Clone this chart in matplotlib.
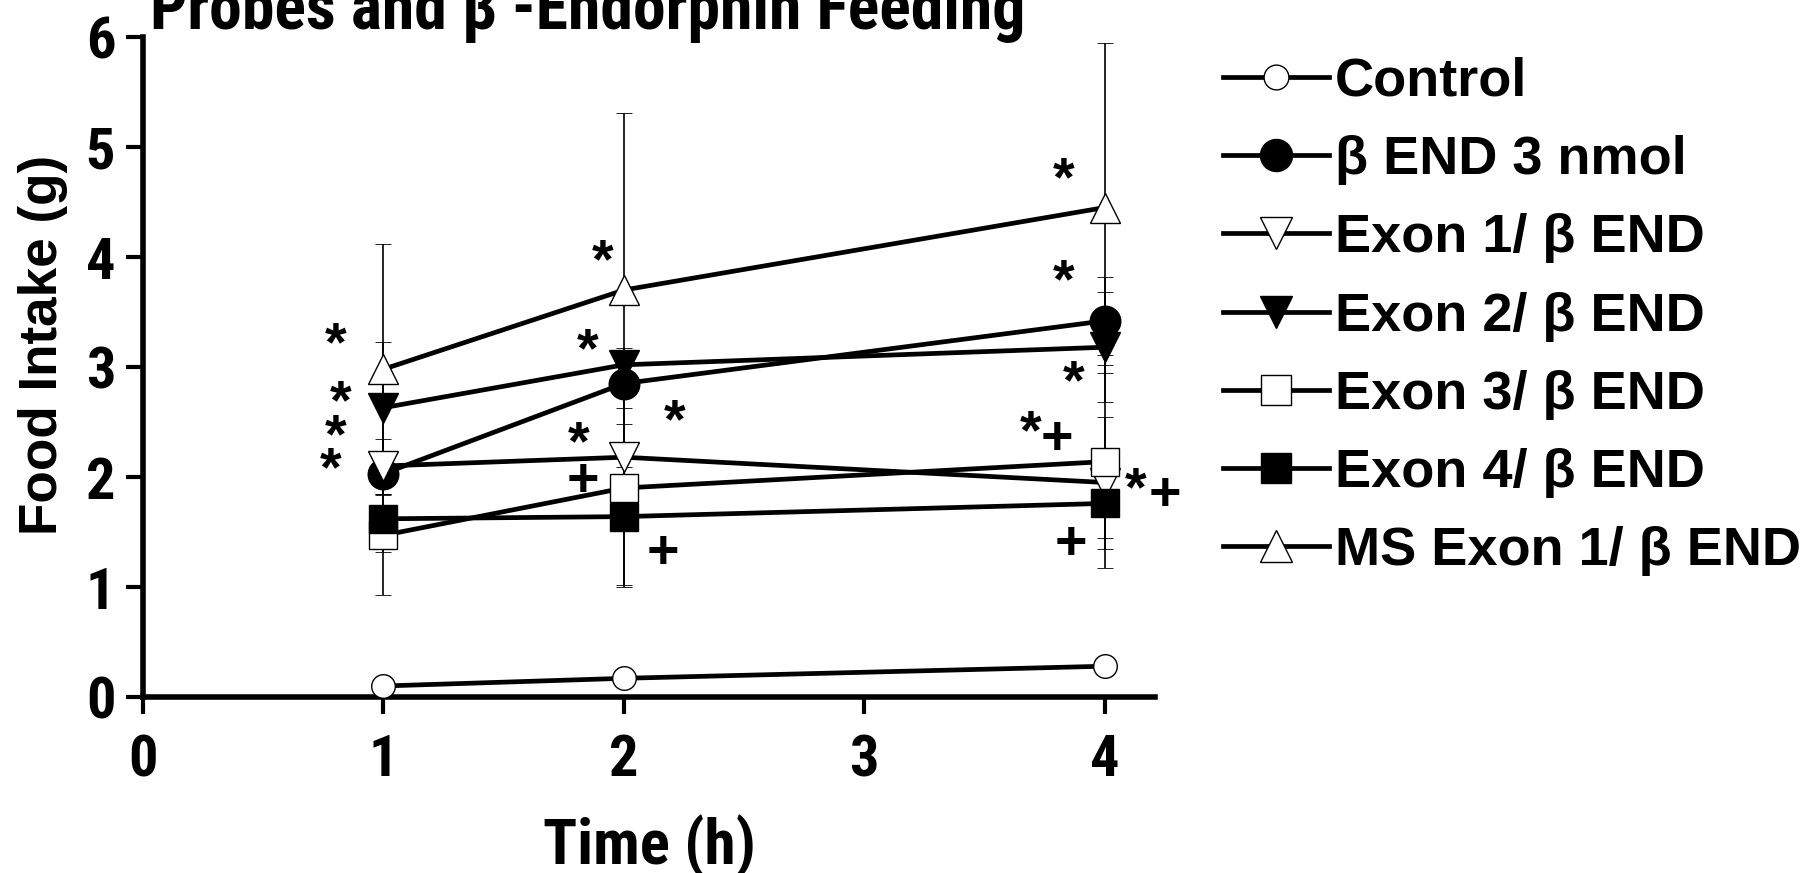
import matplotlib
matplotlib.use('Agg')
import matplotlib.pyplot as plt
from matplotlib import font_manager

# data
time_h = [1, 2, 4]
control = [0.10, 0.17, 0.28]
bend = [2.03, 2.85, 3.42]
exon1 = [2.10, 2.18, 1.95]
exon2 = [2.63, 3.02, 3.18]
exon3 = [1.47, 1.90, 2.14]
exon4 = [1.62, 1.64, 1.76]
ms_exon1 = [2.98, 3.70, 4.45]

control_err = [0.04, 0.05, 0.06]
bend_err = [0.18, 0.22, 0.40]
exon1_err = [0.25, 0.30, 0.60]
exon2_err = [0.60, 0.15, 0.50]
exon3_err = [0.54, 0.88, 0.97]
exon4_err = [0.30, 0.64, 0.31]
ms_exon1_err = [1.14, 1.61, 1.50]

labels = ['Control', 'β END 3 nmol', 'Exon 1/ β END', 'Exon 2/ β END',
          'Exon 3/ β END', 'Exon 4/ β END', 'MS Exon 1/ β END']

# significance marks (x, y, symbol)
sig_marks = [(0.80, 3.29, '*'), (0.82, 2.76, '*'), (0.80, 2.45, '*'), (0.78, 2.15, '*'),
             (1.91, 4.04, '*'), (1.85, 3.23, '*'), (1.81, 2.39, '*'), (1.83, 2.00, '+'),
             (2.21, 2.59, '*'), (2.16, 1.34, '+'),
             (3.83, 4.79, '*'), (3.83, 3.86, '*'), (3.87, 2.94, '*'),
             (3.69, 2.49, '*'), (3.80, 2.38, '+'),
             (4.13, 1.97, '*'), (4.25, 1.87, '+'), (3.86, 1.43, '+')]

names = {f.name for f in font_manager.fontManager.ttflist}
narrow = 'Liberation Sans'
for cand in ['Roboto Condensed', 'Archivo Narrow', 'PT Sans Narrow', 'Liberation Sans Narrow', 'Open Sans Condensed']:
    if cand in names:
        narrow = cand
        break
plt.rcParams['font.family'] = ['Liberation Sans', 'DejaVu Sans']
plt.rcParams['font.weight'] = 'bold'

fig = plt.figure(figsize=(18.04, 8.73), dpi=100)
ax = fig.add_axes([0.0793, 0.2016, 0.5611, 0.756])

series = [
    (control, control_err, dict(marker='o', mfc='white', mec='black', ms=17, mew=1.0)),
    (bend, bend_err, dict(marker='o', mfc='black', mec='black', ms=22, mew=1.0)),
    (exon1, exon1_err, dict(marker='v', mfc='white', mec='black', ms=22, mew=1.0)),
    (exon2, exon2_err, dict(marker='v', mfc='black', mec='black', ms=22, mew=1.0)),
    (exon3, exon3_err, dict(marker='s', mfc='white', mec='black', ms=20, mew=1.0)),
    (exon4, exon4_err, dict(marker='s', mfc='black', mec='black', ms=20, mew=1.0)),
    (ms_exon1, ms_exon1_err, dict(marker='^', mfc='white', mec='black', ms=22, mew=1.0)),
]

handles = []
for (vals, errs, style), lab in zip(series, labels):
    ax.errorbar(time_h, vals, yerr=errs, fmt='none', ecolor='black',
                elinewidth=1.2, capsize=6, capthick=0.6, zorder=2)
    h, = ax.plot(time_h, vals, color='black', lw=3.4, label=lab, zorder=3, **style)
    handles.append(h)

for x, y, s in sig_marks:
    fs = 40
    off = 0.45 * fs if s == '*' else 0.34 * fs
    ax.annotate(s, (x, y), xytext=(0, -off), textcoords='offset points',
                ha='center', va='baseline', fontsize=fs, fontweight='bold',
                family='Liberation Sans', annotation_clip=False)

ax.set_xlim(0, 4.21)
ax.set_ylim(0, 6)
ax.set_xticks([0, 1, 2, 3, 4])
ax.set_yticks([0, 1, 2, 3, 4, 5, 6])
for side in ['top', 'right']:
    ax.spines[side].set_visible(False)
for side in ['left', 'bottom']:
    ax.spines[side].set_linewidth(4)
ax.tick_params(width=3, length=12, direction='out', labelsize=42)
ax.tick_params(axis='x', pad=14)
ax.tick_params(axis='y', pad=8)
for lab in ax.get_xticklabels() + ax.get_yticklabels():
    lab.set_family(narrow)
    lab.set_fontweight('bold')

ax.set_xlabel('Time (h)', fontsize=46, family=narrow, fontweight='bold', va='top')
ax.set_ylabel('Food Intake (g)', fontsize=38, family='Liberation Sans', fontweight='bold')
ax.xaxis.set_label_coords(0.5, -0.178)
ax.yaxis.set_label_coords(-0.074, 0.533)

title = fig.text(150 / 1804, 1 - 29 / 873, 'Probes and β -Endorphin Feeding', fontsize=48,
                 family=narrow, fontweight='bold', ha='left', va='baseline')

fig.legend(handles=handles, loc='upper left', bbox_to_anchor=(1223 / 1804, 1 - 57 / 873),
           frameon=False, handlelength=1.95, handletextpad=0.12,
           labelspacing=0.52, borderaxespad=0, borderpad=0, markerscale=1.05,
           prop={'family': 'Liberation Sans', 'weight': 'bold', 'size': 39})

# scale a few texts so their widths match the original
r = fig.canvas.get_renderer()
for t, target, horiz in [(title, 874, True), (ax.xaxis.label, 213, True), (ax.yaxis.label, 380, False)]:
    bb = t.get_window_extent(r)
    size = bb.width if horiz else bb.height
    t.set_fontsize(t.get_fontsize() * target / size)

fig.savefig('out.png', dpi=100)
